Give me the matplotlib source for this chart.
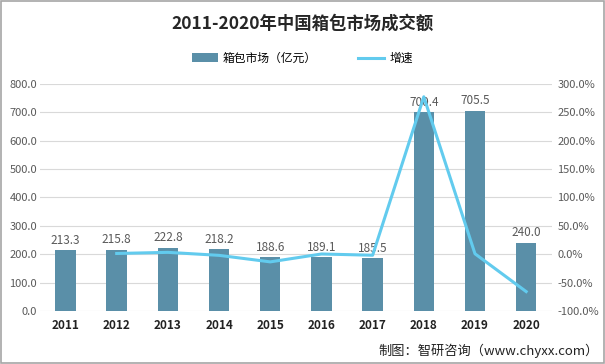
import matplotlib
matplotlib.use('Agg')
import matplotlib.pyplot as plt
import numpy as np

plt.rcParams['font.family'] = ['Noto Sans CJK SC', 'DejaVu Sans']

# 数据
years = ['2011', '2012', '2013', '2014', '2015', '2016', '2017', '2018', '2019', '2020']
market = [213.3, 215.8, 222.8, 218.2, 188.6, 189.1, 185.5, 700.4, 705.5, 240.0]
growth_years = ['2012', '2013', '2014', '2015', '2016', '2017', '2018', '2019', '2020']
growth = [1.2, 3.2, -2.1, -13.6, 0.3, -1.9, 277.6, 0.7, -66.0]

bar_color = '#5A8FA8'
line_color = '#62CBEE'
tick_gray = '#595959'

fig = plt.figure(figsize=(6.05, 3.64), dpi=100)
ax = fig.add_axes([0.066, 0.146, 0.846, 0.623])

x = np.arange(len(years))
bars = ax.bar(x, market, width=0.4, color=bar_color, zorder=2, label='箱包市场（亿元）')
for xi, v in zip(x, market):
    ax.text(xi, v + 12, f'{v:.1f}', ha='center', va='bottom', fontsize=8.5, color=tick_gray)

ax.set_xlim(-0.5, len(years) - 0.5)
ax.set_ylim(0, 800)
ax.set_yticks(np.arange(0, 801, 100))
ax.set_yticklabels([f'{v:.1f}' for v in np.arange(0, 801, 100)], fontsize=8, color=tick_gray)
ax.set_xticks(x)
ax.set_xticklabels(years, fontsize=8.5, fontweight='bold', color='#222222')
ax.tick_params(length=0, pad=6)
ax.tick_params(axis='y', pad=2)
ax.grid(axis='y', color='#D9D9D9', linewidth=0.8, zorder=0)
for s in ax.spines.values():
    s.set_visible(False)

ax2 = ax.twinx()
gx = [years.index(y) for y in growth_years]
line, = ax2.plot(gx, growth, color=line_color, linewidth=2.2, zorder=3, label='增速')
ax2.set_ylim(-100, 300)
ax2.set_yticks(np.arange(-100, 301, 50))
ax2.set_yticklabels([f'{v:.1f}%' for v in np.arange(-100, 301, 50)], fontsize=8, color=tick_gray)
ax2.tick_params(length=0, pad=4)
for s in ax2.spines.values():
    s.set_visible(False)

fig.text(0.5, 0.935, '2011-2020年中国箱包市场成交额', ha='center', va='center',
         fontsize=12.5, fontweight='bold', color='#262626')
fig.legend(handles=[bars, line], loc='center', bbox_to_anchor=(0.5, 0.84), ncol=2,
           frameon=False, fontsize=8.5, handlelength=2.2, columnspacing=3.5,
           handletextpad=0.4)

fig.text(0.99, 0.035, '制图：智研咨询（www.chyxx.com）', ha='right', va='center',
         fontsize=9.5, color='#222222')

fig.patches.append(plt.Rectangle((0.001, 0.002), 0.997, 0.995, transform=fig.transFigure,
                                 fill=False, edgecolor='#A6A6A6', linewidth=1.2))

fig.savefig('out.png', dpi=100)
